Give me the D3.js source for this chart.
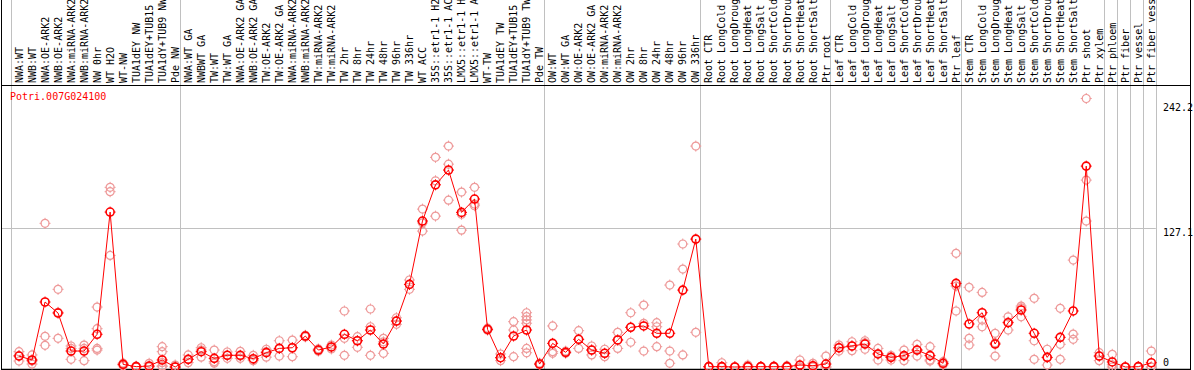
<!DOCTYPE html>
<html><head><meta charset="utf-8">
<script src="https://cdn.jsdelivr.net/npm/d3@7"></script>
<style>html,body{margin:0;padding:0;background:#fff;overflow:hidden}svg{display:block}</style>
</head><body>
<svg id="chart" width="1194" height="370"></svg>
<script>
const title = "Potri.007G024100";
const categories = [
 "NWA:WT","NWB:WT","NWA:OE-ARK2","NWB:OE-ARK2","NWA:miRNA-ARK2","NWB:miRNA-ARK2","NW 0hr","WT H2O","WT-NW","TUA1dEY NW","TUA1dEY+TUB15 NW","TUA1dY+TUB9 NW","Pde NW",
 "NWA:WT GA","NWBWT GA","TW:WT","TW:WT GA","NWA:OE-ARK2 GA","NWB:OE-ARK2 GA","TW:OE-ARK2","TW:OE-ARK2 GA","NWA:miRNA-ARK2 GA","NWB:miRNA-ARK2 GA","TW:miRNA-ARK2","TW:miRNA-ARK2","TW 2hr","TW 8hr","TW 24hr","TW 48hr","TW 96hr","TW 336hr","WT ACC","35S::etr1-1 H2O","35S::etr1-1 ACC","LMX5::etr1-1 H2O","LMX5::etr1-1 ACC","WT-TW","TUA1dEY TW","TUA1dEY+TUB15 TW","TUA1dY+TUB9 TW","Pde TW",
 "OW:WT","OW:WT GA","OW:OE-ARK2","OW:OE-ARK2 GA","OW:miRNA-ARK2","OW:miRNA-ARK2 GA","OW 2hr","OW 8hr","OW 24hr","OW 48hr","OW 96hr","OW 336hr",
 "Root CTR","Root LongCold","Root LongDrought","Root LongHeat","Root LongSalt","Root ShortCold","Root ShortDrought","Root ShortHeat","Root ShortSalt","Ptr root",
 "Leaf CTR","Leaf LongCold","Leaf LongDrought","Leaf LongHeat","Leaf LongSalt","Leaf ShortCold","Leaf ShortDrought","Leaf ShortHeat","Leaf ShortSalt","Ptr leaf",
 "Stem CTR","Stem LongCold","Stem LongDrought","Stem LongHeat","Stem LongSalt","Stem ShortCold","Stem ShortDrought","Stem ShortHeat","Stem ShortSalt","Ptr shoot","Ptr xylem",
 "Ptr phloem","Ptr fiber","Ptr vessel","Ptr fiber vessel"
];
const groupStarts = [0, 13, 41, 53, 63, 73, 84, 85, 86, 87];
const means = [
 10,6.4,59.4,49.3,14.6,14.6,29.9,141.6,2.4,0.3,0.9,6.4,0,
 7,14,7.9,10.7,10.7,7.6,13.1,17,17.6,28.3,15.5,18.3,29.9,24,33.8,21,42,75.5,133.4,166.5,180,141.3,153.5,34.4,8.5,28.3,33.8,2.7,
 21.6,13.4,25.3,15.5,12.5,24.7,36.3,37.5,30.8,30.8,70.3,116.9,
 0.3,0.3,0,0.3,0.3,0.3,0.3,1.8,1.2,2.7,
 17.6,19.2,21,11.9,8.8,10.4,15.5,10.4,3.4,76.4,
 39.3,49.6,21,40.5,52.1,30.8,8.8,27.1,51.2,183.6,10,
 4.6,0,0.3,3.9
];
const replicates = [
 [14,10.5,5.5],[11,5.5,2.7],[131.3,28,19.8],[71,50,26.2],[19.2,17,7],[20,17,5.8],[54.8,35,17,15.5],[164.2,160.2,102],[3.5,2.4,1.2],[0.8,0.2,0],[3.4,0.5,0],[18.6,14,4,1,0.5],[1.8,0,0],
 [11,7,4],[17.6,15.5,9],[15.5,4.9,3.5],[13.7,10.7,7.9],[14.3,10,7.9],[10.7,6.5,5.8],[16.2,14,9],[24,17,10],[24.6,17.6,9.4],[29,28.3,27.5],[16.5,15.5,14.5],[20,18.3,16.5],[51.2,26.2,10.7],[27.7,24,18],[53,36.8,10.7],[26.2,23,12.5],[45,42,39],[79.5,75.5,71],[144.3,131.7,124.2],[191.6,170.2,137.9],[201.9,185.4,152.5],[159.9,139.5,125.1],[164.2,148.9,147.4],[35.5,34,33.7],[11.9,8.5,5.8],[41.4,33.8,9.4],[49.6,46,43,40,17,13],[3.5,2.7,2],
 [37.5,14,12.5],[14.5,13.4,12.5],[33.2,25.3,17],[19.2,15.5,11],[16.2,12.5,9.4],[31.7,24.7,17],[49.6,36.3,22.6],[56.6,39.9,14.6],[40.5,36.8,18.6],[74.9,14.6,3.4],[112.4,89.5,11],[201.9,31.7],
 [0.5,0.3,0],[3.9,0,0],[0.3,0,0],[1.8,0,0],[0.5,0.3,0],[0.8,0.3,0],[1.2,0,0],[6.4,0,0],[3.4,0.5,0],[10,0,0],
 [20,17.6,14.6],[23.1,19.2,14.9],[24,22,16.2],[17,12,6.4],[10.5,8.8,6.4],[15.5,10,5.8],[20.7,15.5,10],[18.6,6.4,5.5],[4.9,3.4,2],[103.9,74,51.2],
 [72.8,26.2,20.1],[68.2,42.9,36.8],[30.8,22,10],[45.9,41,33.8],[55.7,54,45.9],[62.8,24,7],[16.2,8.5,1.8],[53.6,20.7,7],[97.7,30.1,25.3],[245.4,170.8,133.4],[13.1,10,5.8],
 [11.6,2,0],[0,0,0],[0.5,0,0],[14.6,0,0]
];
const tickValues = [0, 127.1, 242.2];
const tickLabels = ["0", "127.1", "242.2"];

const svg = d3.select("#chart");
const font = "'DejaVu Sans Mono', monospace";
const n = categories.length;
const bw = 13.015;
const x = d3.scaleBand().domain(d3.range(n)).range([12.5, 12.5 + n * bw]).padding(0);
const cx = i => x(i) + x.bandwidth() / 2;
const y = d3.scaleLinear().domain([0, 242.2]).range([367, 102]);
const headerBottom = 85, plotBottom = 369, frameRight = 1190;

// horizontal grid
svg.append("line").attr("x1", 1).attr("x2", x(n - 1) + x.bandwidth() - 2)
  .attr("y1", Math.round(y(127.1)) + 0.5).attr("y2", Math.round(y(127.1)) + 0.5)
  .attr("stroke", "#c0c0c0").attr("stroke-width", 1);

// vertical group dividers
const divs = groupStarts.map(s => x(s) - 2).concat([x(n - 1) + x.bandwidth() - 2]);
svg.selectAll("line.div").data(divs).enter().append("line").attr("class", "div")
  .attr("x1", d => Math.round(d) + 0.5).attr("x2", d => Math.round(d) + 0.5)
  .attr("y1", 0).attr("y2", plotBottom)
  .attr("stroke", "#c0c0c0").attr("stroke-width", 1);

// header labels
svg.selectAll("text.cat").data(categories).enter().append("text").attr("class", "cat")
  .attr("transform", (d, i) => `translate(${cx(i)},83) rotate(-90)`)
  .attr("dy", "0.36em")
  .attr("font-family", font).attr("font-size", 10).attr("fill", "#000")
  .text(d => d);

// frame
svg.append("line").attr("x1", 1.5).attr("x2", 1.5).attr("y1", 0).attr("y2", 370).attr("stroke", "#000");
svg.append("line").attr("x1", frameRight + 0.5).attr("x2", frameRight + 0.5).attr("y1", 0).attr("y2", 370).attr("stroke", "#000");
svg.append("line").attr("x1", 1).attr("x2", frameRight).attr("y1", headerBottom + 0.5).attr("y2", headerBottom + 0.5).attr("stroke", "#000");
svg.append("line").attr("x1", 1).attr("x2", frameRight).attr("y1", plotBottom + 0.5).attr("y2", plotBottom + 0.5).attr("stroke", "#000").attr("stroke-width", 1.5);

// title
svg.append("text").attr("x", 10).attr("y", 100).attr("font-family", font).attr("font-size", 10)
  .attr("fill", "#ff0000").text(title);

// right tick labels
svg.selectAll("text.tick").data(tickValues).enter().append("text").attr("class", "tick")
  .attr("x", 1163).attr("y", d => Math.min(y(d) + 8.5, 366))
  .attr("font-family", font).attr("font-size", 10).attr("fill", "#000")
  .text((d, i) => tickLabels[i]);

function marker(g, r, color, sw) {
  g.append("circle").attr("r", r).attr("fill", "none").attr("stroke", color).attr("stroke-width", sw);
  g.append("path").attr("d", `M0,${-r-1.5}V${-r+0.5}M0,${r-0.5}V${r+1.5}M${-r-1.5},0H${-r+0.5}M${r-0.5},0H${r+1.5}`)
    .attr("stroke", color).attr("stroke-width", 1).attr("fill", "none");
}

// replicates
const repPts = [];
replicates.forEach((arr, i) => arr.forEach(v => repPts.push({ i, v })));
svg.selectAll("g.rep").data(repPts).enter().append("g").attr("class", "rep")
  .attr("transform", d => `translate(${cx(d.i)},${y(d.v)})`)
  .each(function () { marker(d3.select(this), 4, "#ee9a9a", 1.2); });

// mean line
const line = d3.line().x((d, i) => cx(i)).y(d => y(d));
svg.append("path").datum(means).attr("d", line).attr("fill", "none").attr("stroke", "#ff0000").attr("stroke-width", 1);

// mean markers
svg.selectAll("g.mean").data(means).enter().append("g").attr("class", "mean")
  .attr("transform", (d, i) => `translate(${cx(i)},${y(d)})`)
  .each(function () { marker(d3.select(this), 4, "#ff0000", 1.6); });
</script>
</body></html>
